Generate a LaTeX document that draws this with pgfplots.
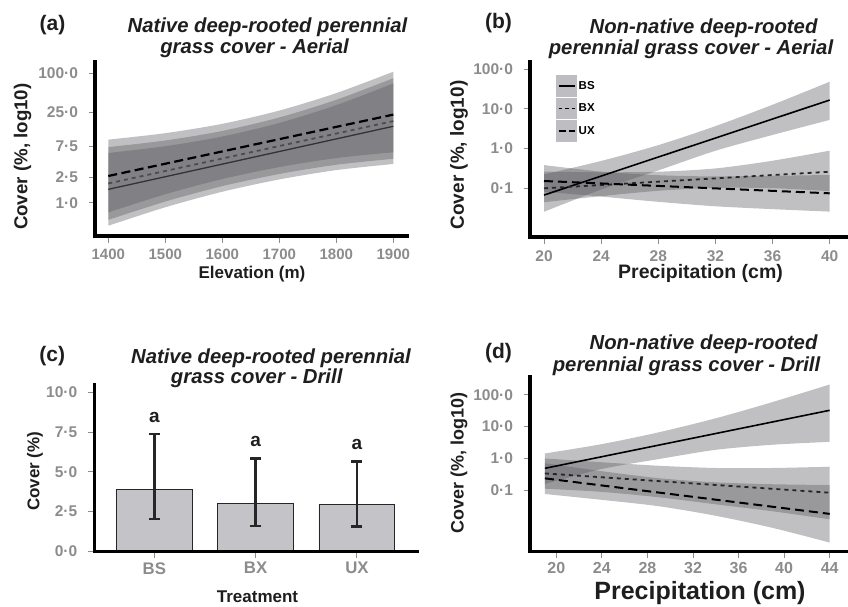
\documentclass[border=0pt]{standalone}
\usepackage{fontspec}
\setmainfont{Liberation Sans}
\usepackage{pgfplots}
\pgfplotsset{compat=1.18}
\usepgfplotslibrary{fillbetween}
\usepackage{pgfplotstable}

\definecolor{ticklab}{RGB}{140,140,140}
\definecolor{txt}{RGB}{30,30,30}
\definecolor{band}{RGB}{90,90,95}
\definecolor{barfill}{RGB}{196,196,200}
\definecolor{legkey}{RGB}{190,190,194}
\newcommand{\fs}[1]{\fontsize{#1}{#1}\selectfont}

% panel (a): log10 cover vs elevation
\pgfplotstableread{
x    ux    uxu   uxl    bx    bxu   bxl    bs    bsu   bsl
1400 0.415 0.975 -0.145 0.300 0.860 -0.260 0.210 0.770 -0.350
1500 0.604 1.074 0.134  0.492 0.962 0.022  0.404 0.874 -0.066
1600 0.793 1.218 0.368  0.684 1.109 0.259  0.598 1.023 0.173
1700 0.982 1.422 0.552  0.876 1.316 0.446  0.792 1.232 0.362
1800 1.171 1.691 0.691  1.068 1.588 0.588  0.986 1.506 0.506
1900 1.360 2.020 0.780  1.260 1.920 0.680  1.180 1.840 0.600
}\dataA
% panel (b)
\pgfplotstableread{
x  bs     bsu    bsl    bx     bxu    bxl    ux     uxu    uxl
20 -1.170 -0.650 -1.590 -1.000 -0.580 -1.350 -0.816 -0.416 -1.086
24 -0.692 -0.312 -1.032 -0.917 -0.597 -1.197 -0.878 -0.578 -1.208
28 -0.214 0.086  -0.550 -0.833 -0.583 -1.063 -0.940 -0.670 -1.340
32 0.264  0.564  -0.056 -0.750 -0.500 -0.990 -1.002 -0.702 -1.452
36 0.742  1.102  0.342  -0.666 -0.306 -0.996 -1.064 -0.684 -1.524
40 1.220  1.680  0.720  -0.583 -0.053 -1.073 -1.126 -0.666 -1.586
}\dataB
% panel (c)
\pgfplotstableread{
x y    ep   em
0 3.86 3.52 1.83
1 3.02 2.83 1.43
2 2.96 2.70 1.39
}\dataC
% panel (d)
\pgfplotstableread{
x  bs     bsu   bsl    bx     bxu    bxl    ux     uxu    uxl
19 -0.310 0.156 -0.800 -0.470 0.000  -0.950 -0.625 -0.150 -1.116
24 0.054  0.450 -0.330 -0.591 -0.120 -1.050 -0.848 -0.400 -1.300
29 0.418  0.820 -0.020 -0.712 -0.230 -1.220 -1.071 -0.620 -1.500
34 0.782  1.260 0.270  -0.833 -0.300 -1.440 -1.294 -0.750 -1.800
39 1.146  1.770 0.430  -0.954 -0.300 -1.660 -1.517 -0.810 -2.180
44 1.510  2.320 0.520  -1.075 -0.260 -1.910 -1.740 -0.834 -2.640
}\dataD

\pgfplotsset{
  panel/.style={
    scale only axis, anchor=south west,
    axis x line*=bottom, axis y line*=left,
    axis line style={-},
    every outer x axis line/.append style={line width=3.6pt, black, line cap=rect},
    every outer y axis line/.append style={line width=3.6pt, black, line cap=rect},
    x axis line style={line width=3.6pt, black, line cap=rect},
    y axis line style={line width=3.6pt, black, line cap=rect},
    tick align=outside, major tick length=6.5pt,
    tick style={ticklab, line width=1pt},
    minor tick num=0,
    tick label style={ticklab, font=\bfseries\fs{15.5}},
    yticklabel style={xshift=-7pt},
    /pgf/number format/assume math mode=true,
    /pgf/number format/1000 sep={},
    scaled ticks=false,
    clip=false,
  },
  bandst/.style={fill=band, fill opacity=0.38, draw=none, forget plot},
  edge/.style={draw=none, smooth, forget plot},
}

\begin{document}
\begin{tikzpicture}

% ---------------- (a)
\begin{axis}[panel, at={(95pt,370pt)}, width=312pt, height=174.5pt,
  xmin=1376.7, xmax=1924, ymin=-0.508, ymax=2.177,
  xtick={1400,1500,1600,1700,1800,1900},
  ytick={0,0.39794,0.87506,1.39794,2},
  yticklabels={1·0,2·5,7·5,25·0,100·0},
  xticklabel style={font=\bfseries\fs{15}, yshift=-3pt}]
\addplot[edge, name path=a1u] table[x=x,y=uxu]{\dataA};
\addplot[edge, name path=a1l] table[x=x,y=uxl]{\dataA};
\addplot[edge, name path=a2u] table[x=x,y=bxu]{\dataA};
\addplot[edge, name path=a2l] table[x=x,y=bxl]{\dataA};
\addplot[edge, name path=a3u] table[x=x,y=bsu]{\dataA};
\addplot[edge, name path=a3l] table[x=x,y=bsl]{\dataA};
\addplot[bandst] fill between[of=a1u and a1l];
\addplot[bandst] fill between[of=a2u and a2l];
\addplot[bandst] fill between[of=a3u and a3l];
\addplot[black!80, line width=1.3pt, forget plot] table[x=x,y=bs]{\dataA};
\addplot[black!70, line width=1.8pt, dash pattern=on 4pt off 4pt, forget plot] table[x=x,y=bx]{\dataA};
\addplot[black, line width=2.2pt, dash pattern=on 9pt off 4.5pt, forget plot] table[x=x,y=ux]{\dataA};
\end{axis}

% ---------------- (b)
\begin{axis}[panel, at={(530pt,368.7pt)}, width=317pt, height=175.6pt,
  xmin=19.02, xmax=41.21, ymin=-2.232, ymax=2.184,
  xtick={20,24,28,32,36,40},
  ytick={-1,0,1,2}, yticklabels={0·1,1·0,10·0,100·0},
  xticklabel style={yshift=-3pt},
  legend style={at={(rel axis cs:0.082,0.924)}, anchor=north west, draw=none, fill=none,
    inner sep=0pt, row sep=1pt, font=\bfseries\fs{11.5}, text=black,
    nodes={inner sep=1.5pt}},
  legend cell align=left]
\addplot[edge, name path=b1u] table[x=x,y=bsu]{\dataB};
\addplot[edge, name path=b1l] table[x=x,y=bsl]{\dataB};
\addplot[edge, name path=b2u] table[x=x,y=bxu]{\dataB};
\addplot[edge, name path=b2l] table[x=x,y=bxl]{\dataB};
\addplot[edge, name path=b3u] table[x=x,y=uxu]{\dataB};
\addplot[edge, name path=b3l] table[x=x,y=uxl]{\dataB};
\addplot[bandst] fill between[of=b1u and b1l];
\addplot[bandst] fill between[of=b2u and b2l];
\addplot[bandst] fill between[of=b3u and b3l];
\addplot[black, line width=1.6pt, forget plot] table[x=x,y=bs]{\dataB};
\addplot[black!85, line width=1.8pt, dash pattern=on 4pt off 4pt, forget plot] table[x=x,y=bx]{\dataB};
\addplot[black, line width=2pt, dash pattern=on 9pt off 5pt, forget plot] table[x=x,y=ux]{\dataB};
\addlegendimage{black, line width=1.6pt, legend image code/.code={\path[fill=legkey, draw=none] (0pt,-10.75pt) rectangle (21pt,10.75pt); \draw (2.5pt,0pt) -- (18.5pt,0pt);}}
\addlegendentry{BS}
\addlegendimage{black, line width=1.6pt, dash pattern=on 3.5pt off 3pt, legend image code/.code={\path[fill=legkey, draw=none] (0pt,-10.75pt) rectangle (21pt,10.75pt); \draw (2.5pt,0pt) -- (19pt,0pt);}}
\addlegendentry{BX}
\addlegendimage{black, line width=1.6pt, dash pattern=on 7pt off 3.5pt, legend image code/.code={\path[fill=legkey, draw=none] (0pt,-10.75pt) rectangle (21pt,10.75pt); \draw (2.5pt,0pt) -- (19pt,0pt);}}
\addlegendentry{UX}
\end{axis}

% ---------------- (c)
\begin{axis}[panel, at={(94.3pt,54.7pt)}, width=322.4pt, height=166.6pt,
  xmin=-0.593, xmax=2.59, ymin=0, ymax=10.48,
  xtick={0,1,2}, xticklabels={BS,BX,UX},
  ytick={0,2.5,5,7.5,10}, yticklabels={0·0,2·5,5·0,7·5,10·0},
  xticklabel style={font=\bfseries\fs{16.8}, yshift=-1pt}, axis on top]
\addplot[ybar, bar width=0.75, fill=barfill, draw=black!85, line width=0.9pt,
  error bars/.cd, y dir=both, y explicit,
  error bar style={line width=2.6pt, black!85},
  error mark options={line width=2.6pt, mark size=5.5pt, rotate=90, black!85}]
  table[x=x, y=y, y error plus=ep, y error minus=em]{\dataC};
\node[font=\bfseries\fs{19}, text=txt] at (axis cs:0,8.43) {a};
\node[font=\bfseries\fs{19}, text=txt] at (axis cs:1,6.9) {a};
\node[font=\bfseries\fs{19}, text=txt] at (axis cs:2,6.7) {a};
\end{axis}

% ---------------- (d)
\begin{axis}[panel, at={(530pt,54.7pt)}, width=317pt, height=174.3pt,
  xmin=17.69, xmax=45.52, ymin=-2.914, ymax=2.555,
  xtick={20,24,28,32,36,40,44},
  ytick={-1,0,1,2}, yticklabels={0·1,1·0,10·0,100·0},
  xticklabel style={font=\bfseries\fs{16}, yshift=-1pt}]
\addplot[edge, name path=d1u] table[x=x,y=bsu]{\dataD};
\addplot[edge, name path=d1l] table[x=x,y=bsl]{\dataD};
\addplot[edge, name path=d2u] table[x=x,y=bxu]{\dataD};
\addplot[edge, name path=d2l] table[x=x,y=bxl]{\dataD};
\addplot[edge, name path=d3u] table[x=x,y=uxu]{\dataD};
\addplot[edge, name path=d3l] table[x=x,y=uxl]{\dataD};
\addplot[bandst] fill between[of=d1u and d1l];
\addplot[bandst] fill between[of=d2u and d2l];
\addplot[bandst] fill between[of=d3u and d3l];
\addplot[black, line width=1.6pt, forget plot] table[x=x,y=bs]{\dataD};
\addplot[black!85, line width=1.8pt, dash pattern=on 4pt off 4pt, forget plot] table[x=x,y=bx]{\dataD};
\addplot[black, line width=2pt, dash pattern=on 9pt off 5pt, forget plot] table[x=x,y=ux]{\dataD};
\end{axis}

% ---------------- titles, panel letters, axis labels
\begin{scope}[every node/.style={text=txt, inner sep=0pt}]
\node[font=\bfseries\fs{21}] at (52.5pt,581pt) {(a)};
\node[font=\bfseries\fs{21}] at (498.5pt,582.7pt) {(b)};
\node[font=\bfseries\fs{21}] at (52.2pt,250pt) {(c)};
\node[font=\bfseries\fs{21}] at (498.5pt,253pt) {(d)};

\node[font=\bfseries\itshape\fs{20.3}, anchor=base] at (267.5pt,573.7pt) {Native deep-rooted perennial};
\node[font=\bfseries\itshape\fs{20.3}, anchor=base] at (254.5pt,552.7pt) {grass cover - Aerial};
\node[font=\bfseries\itshape\fs{20.3}, anchor=base] at (703.5pt,572.7pt) {Non-native deep-rooted};
\node[font=\bfseries\itshape\fs{20.3}, anchor=base] at (691pt,551.7pt) {perennial grass cover - Aerial};
\node[font=\bfseries\itshape\fs{20.3}, anchor=base] at (271pt,242.3pt) {Native deep-rooted perennial};
\node[font=\bfseries\itshape\fs{20.3}, anchor=base] at (256.7pt,223pt) {grass cover - Drill};
\node[font=\bfseries\itshape\fs{20.3}, anchor=base] at (703.5pt,256.3pt) {Non-native deep-rooted};
\node[font=\bfseries\itshape\fs{20.3}, anchor=base] at (686.5pt,234.7pt) {perennial grass cover - Drill};

\node[font=\bfseries\fs{17}, anchor=base] at (252pt,327pt) {Elevation (m)};
\node[font=\bfseries\fs{19.5}, anchor=base] at (700.5pt,327pt) {Precipitation (cm)};
\node[font=\bfseries\fs{17}, anchor=base] at (257.5pt,3.5pt) {Treatment};
\node[font=\bfseries\fs{25}, anchor=base] at (700pt,6.5pt) {Precipitation (cm)};

\node[font=\bfseries\fs{18.7}, rotate=90] at (22.5pt,449.3pt) {Cover (\%, log10)};
\node[font=\bfseries\fs{19}, rotate=90] at (459pt,451pt) {Cover (\%, log10)};
\node[font=\bfseries\fs{17}, rotate=90] at (35pt,134.7pt) {Cover (\%)};
\node[font=\bfseries\fs{18}, rotate=90] at (459pt,143pt) {Cover (\%, log10)};
\end{scope}
\pgfresetboundingbox
\path[use as bounding box] (0pt,0pt) rectangle (848pt,606pt);
\end{tikzpicture}
\end{document}
